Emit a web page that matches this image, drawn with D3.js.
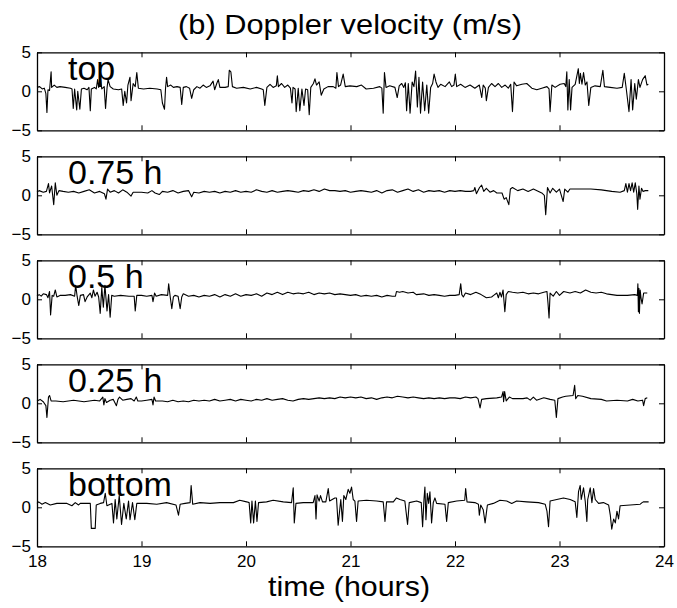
<!DOCTYPE html>
<html>
<head>
<meta charset="utf-8">
<script src="https://cdn.jsdelivr.net/npm/d3@7"></script>
<style>
  body { margin: 0; background: #fff; }
  text { font-family: "Liberation Sans", Arial, Helvetica, sans-serif; fill: #000; }
</style>
</head>
<body>
<div id="chart"></div>
<script>
// Doppler velocity (m/s) at five heights, [time in hours, velocity]
const topSeries = [
  [18.00,0.5],[18.025,0.6],[18.05,0.3],[18.07,0.4],[18.085,-0.3],[18.095,-2.7],[18.105,0.2],[18.12,0.1],
  [18.135,2.5],[18.14,0.5],[18.165,0.8],[18.19,0.5],[18.22,0.6],[18.27,0.5],[18.32,0.4],[18.335,0.3],
  [18.347,-2.2],[18.36,0.3],[18.38,-2.4],[18.39,0.0],[18.41,-2.3],[18.425,0.3],[18.45,0.4],[18.48,0.2],
  [18.497,0.5],[18.51,-2.5],[18.52,0.3],[18.55,0.5],[18.567,0.3],[18.58,1.5],[18.59,0.5],[18.605,1.8],
  [18.62,0.3],[18.643,0.6],[18.656,-2.2],[18.67,0.4],[18.68,1.5],[18.70,0.6],[18.73,0.3],[18.78,0.2],
  [18.81,0.3],[18.825,-1.8],[18.84,0.0],[18.857,-1.5],[18.87,0.8],[18.89,1.8],[18.90,-1.2],[18.92,1.0],
  [18.94,0.6],[18.955,2.4],[18.97,0.4],[19.02,0.3],[19.08,0.4],[19.15,0.3],[19.185,0.2],[19.20,-1.5],
  [19.22,-2.3],[19.23,0.4],[19.24,1.8],[19.25,0.6],[19.28,0.8],[19.305,0.5],[19.34,0.6],[19.37,0.5],
  [19.385,-1.7],[19.40,0.5],[19.43,0.6],[19.46,0.4],[19.48,-0.9],[19.50,0.2],[19.53,0.6],[19.56,0.4],
  [19.59,0.8],[19.62,0.5],[19.655,0.7],[19.685,1.3],[19.70,0.2],[19.72,1.0],[19.735,1.5],[19.75,0.5],
  [19.80,0.5],[19.83,0.6],[19.84,2.7],[19.855,2.5],[19.87,0.6],[19.91,0.4],[19.975,0.5],[20.04,0.3],
  [20.10,0.5],[20.15,0.3],[20.165,0.2],[20.18,-1.8],[20.20,0.5],[20.23,0.9],[20.26,0.5],[20.29,0.7],
  [20.30,2.0],[20.31,0.6],[20.34,1.0],[20.37,0.5],[20.40,0.8],[20.425,0.4],[20.44,-1.5],[20.45,0.5],
  [20.47,0.3],[20.48,-2.6],[20.50,0.4],[20.515,-2.5],[20.535,0.3],[20.555,-1.8],[20.57,0.3],[20.59,0.2],
  [20.605,-3.0],[20.62,0.5],[20.645,1.0],[20.66,1.6],[20.675,0.8],[20.70,1.2],[20.72,-0.5],[20.745,0.3],
  [20.785,0.6],[20.835,0.6],[20.86,0.4],[20.87,2.4],[20.885,0.6],[20.905,0.8],[20.93,2.2],[20.95,0.6],
  [20.995,0.7],[21.06,0.6],[21.105,0.8],[21.15,0.3],[21.22,0.4],[21.28,0.6],[21.30,0.4],[21.313,-2.8],
  [21.325,2.4],[21.34,0.5],[21.375,0.7],[21.425,0.5],[21.447,-0.8],[21.466,0.7],[21.49,1.0],[21.51,0.5],
  [21.525,1.1],[21.537,-2.5],[21.553,1.0],[21.57,-2.8],[21.59,1.2],[21.607,0.6],[21.623,2.6],[21.64,-2.0],
  [21.655,1.8],[21.67,-2.8],[21.69,1.2],[21.71,-2.5],[21.73,0.8],[21.748,-2.8],[21.767,0.5],[21.786,1.0],
  [21.80,2.2],[21.818,1.2],[21.837,0.5],[21.863,0.9],[21.905,0.6],[21.946,1.2],[21.968,0.6],[21.99,0.8],
  [22.003,2.2],[22.016,0.6],[22.054,0.9],[22.096,0.5],[22.144,0.8],[22.19,0.4],[22.233,0.8],[22.256,-0.8],
  [22.27,0.8],[22.29,0.4],[22.30,-1.2],[22.32,0.5],[22.35,1.0],[22.383,0.6],[22.415,1.0],[22.447,0.5],
  [22.48,0.8],[22.51,0.4],[22.533,0.9],[22.55,-2.6],[22.565,1.2],[22.59,0.7],[22.64,0.9],[22.687,1.0],
  [22.735,0.4],[22.783,0.2],[22.83,0.4],[22.88,0.6],[22.90,0.3],[22.91,-2.6],[22.927,0.8],[22.958,0.5],
  [23.006,0.9],[23.045,1.0],[23.06,0.6],[23.07,2.5],[23.08,-2.4],[23.093,1.5],[23.106,-2.4],[23.12,0.5],
  [23.15,0.9],[23.18,2.9],[23.19,1.0],[23.20,2.3],[23.215,0.9],[23.23,2.4],[23.247,0.8],[23.263,1.2],
  [23.28,-1.8],[23.30,0.5],[23.34,0.7],[23.39,0.6],[23.415,2.7],[23.43,0.6],[23.485,0.5],[23.55,0.4],
  [23.60,0.5],[23.62,2.3],[23.64,0.2],[23.665,-2.6],[23.685,1.5],[23.70,-2.4],[23.72,1.0],[23.735,-1.0],
  [23.755,1.5],[23.77,0.5],[23.795,1.5],[23.82,2.0],[23.837,0.8],[23.85,0.9]
];

const h075Series = [
  [18.00,0.4],[18.02,0.6],[18.06,0.4],[18.09,0.5],[18.11,1.5],[18.12,0.3],[18.14,1.2],[18.16,-1.2],
  [18.175,1.6],[18.19,0.0],[18.21,0.6],[18.25,0.5],[18.30,0.4],[18.35,0.5],[18.40,0.3],[18.45,0.5],
  [18.50,0.7],[18.55,0.3],[18.60,0.5],[18.645,0.2],[18.66,-0.5],[18.675,0.8],[18.70,0.4],[18.74,0.6],
  [18.78,0.3],[18.82,0.7],[18.86,0.4],[18.90,-0.1],[18.92,0.4],[19.00,0.4],[19.06,0.3],[19.10,0.6],
  [19.13,0.3],[19.17,0.1],[19.20,0.5],[19.25,0.4],[19.30,0.6],[19.35,0.3],[19.40,0.5],[19.45,0.6],
  [19.48,-0.2],[19.50,0.4],[19.55,0.3],[19.60,0.5],[19.65,0.4],[19.70,0.5],[19.75,0.3],[19.80,0.5],
  [19.85,0.4],[19.90,0.6],[19.95,0.4],[20.00,0.5],[20.05,0.4],[20.10,0.7],[20.15,0.5],[20.20,0.4],
  [20.25,0.6],[20.30,0.4],[20.35,0.5],[20.40,0.6],[20.45,0.5],[20.50,0.4],[20.55,0.6],[20.60,0.5],
  [20.65,0.7],[20.70,0.5],[20.75,0.8],[20.80,0.6],[20.85,0.6],[20.90,0.5],[20.95,0.6],[21.00,0.4],
  [21.05,0.5],[21.10,0.6],[21.15,0.5],[21.20,0.4],[21.25,0.6],[21.30,0.3],[21.35,0.6],[21.40,0.7],
  [21.45,0.4],[21.50,0.6],[21.55,0.8],[21.60,0.5],[21.65,0.7],[21.70,0.4],[21.75,0.6],[21.80,0.5],
  [21.85,0.6],[21.90,0.4],[21.95,0.6],[22.00,0.5],[22.05,0.6],[22.10,0.5],[22.15,0.5],[22.18,0.6],
  [22.19,1.0],[22.205,0.2],[22.235,1.0],[22.255,1.3],[22.275,0.5],[22.30,0.9],[22.335,0.4],[22.37,0.6],
  [22.40,0.3],[22.45,0.3],[22.47,-0.5],[22.49,-0.3],[22.515,-1.2],[22.53,0.8],[22.55,1.0],[22.60,0.6],
  [22.65,0.8],[22.70,0.5],[22.75,0.8],[22.80,0.5],[22.83,0.3],[22.855,0.0],[22.868,-2.5],[22.885,1.0],
  [22.91,0.3],[22.935,0.9],[22.97,0.4],[23.00,0.8],[23.035,-0.8],[23.05,0.8],[23.08,0.4],[23.10,0.8],
  [23.20,0.8],[23.30,0.8],[23.40,0.7],[23.50,0.5],[23.58,0.4],[23.62,0.6],[23.635,1.5],[23.65,0.4],
  [23.665,1.5],[23.68,0.6],[23.695,1.6],[23.71,0.4],[23.725,1.6],[23.74,0.2],[23.748,-1.8],[23.76,1.2],
  [23.77,-0.5],[23.785,0.9],[23.80,0.5],[23.82,0.6],[23.85,0.6]
];

const h05Series = [
  [18.00,0.4],[18.02,0.6],[18.04,0.4],[18.06,0.7],[18.09,0.6],[18.105,0.2],[18.12,1.0],[18.13,-2.0],
  [18.145,0.5],[18.16,0.4],[18.175,1.2],[18.19,0.3],[18.22,0.5],[18.27,0.5],[18.32,0.6],[18.36,0.4],
  [18.37,1.8],[18.385,0.3],[18.40,-0.8],[18.415,0.5],[18.445,0.6],[18.46,-0.3],[18.48,0.3],[18.51,0.8],
  [18.525,0.2],[18.54,1.2],[18.555,0.4],[18.575,0.9],[18.59,0.3],[18.605,-1.8],[18.62,1.5],[18.635,-1.0],
  [18.65,1.8],[18.67,-1.5],[18.685,0.6],[18.70,-2.3],[18.715,0.5],[18.74,0.4],[18.80,0.5],[18.88,0.4],
  [18.93,0.4],[18.94,-1.5],[18.955,0.5],[19.00,0.5],[19.05,0.4],[19.10,0.5],[19.11,-0.3],[19.125,0.8],
  [19.14,0.4],[19.19,0.6],[19.25,0.5],[19.26,2.0],[19.275,0.3],[19.29,-1.2],[19.305,0.3],[19.32,0.5],
  [19.35,0.4],[19.37,-1.2],[19.385,0.3],[19.40,0.7],[19.45,0.4],[19.50,0.5],[19.55,0.3],[19.60,0.5],
  [19.65,0.4],[19.70,0.6],[19.75,0.3],[19.80,0.6],[19.85,0.4],[19.90,0.7],[19.95,0.4],[20.00,0.6],
  [20.05,0.5],[20.10,0.7],[20.15,0.4],[20.20,0.8],[20.25,0.6],[20.30,0.9],[20.35,0.6],[20.40,0.9],
  [20.45,0.7],[20.50,0.8],[20.55,0.7],[20.60,0.9],[20.65,0.6],[20.70,0.8],[20.75,0.7],[20.80,0.8],
  [20.85,0.6],[20.90,0.7],[20.95,0.6],[21.00,0.5],[21.05,0.6],[21.10,0.4],[21.15,0.5],[21.20,0.4],
  [21.25,0.5],[21.30,0.3],[21.35,0.5],[21.40,0.4],[21.43,0.4],[21.44,1.0],[21.47,0.9],[21.50,1.0],
  [21.55,0.8],[21.60,0.9],[21.63,0.6],[21.70,0.7],[21.75,0.5],[21.80,0.6],[21.85,0.5],[21.90,0.4],
  [21.95,0.5],[22.00,0.5],[22.04,0.6],[22.055,2.0],[22.065,0.6],[22.08,0.3],[22.10,0.8],[22.15,0.6],
  [22.20,0.9],[22.25,0.6],[22.30,0.2],[22.35,0.3],[22.37,0.5],[22.40,0.8],[22.415,0.2],[22.43,0.9],
  [22.445,0.3],[22.46,1.2],[22.477,-1.6],[22.49,0.6],[22.51,1.0],[22.55,0.9],[22.60,0.8],[22.65,0.9],
  [22.70,0.7],[22.75,0.8],[22.80,0.7],[22.85,0.9],[22.88,1.0],[22.89,-0.5],[22.90,-2.4],[22.91,0.8],
  [22.94,0.4],[22.97,1.0],[23.00,0.5],[23.04,1.0],[23.10,0.8],[23.15,1.0],[23.20,0.8],[23.25,1.2],
  [23.30,0.9],[23.35,0.8],[23.40,0.9],[23.45,0.7],[23.50,0.6],[23.55,0.5],[23.65,0.5],[23.72,0.6],
  [23.745,0.5],[23.75,2.0],[23.755,-1.6],[23.76,1.4],[23.765,-1.8],[23.772,1.2],[23.78,0.2],[23.79,-0.6],
  [23.805,0.8],[23.83,0.8],[23.84,0.8]
];

const h025Series = [
  [18.00,0.3],[18.03,0.5],[18.06,0.2],[18.085,-0.3],[18.095,-1.8],[18.11,0.8],[18.12,1.0],[18.135,0.3],
  [18.18,0.3],[18.25,0.2],[18.30,0.3],[18.35,0.4],[18.40,0.3],[18.45,0.2],[18.50,0.3],[18.55,0.4],
  [18.60,0.3],[18.63,0.8],[18.64,-0.2],[18.65,0.6],[18.665,0.1],[18.70,0.4],[18.73,0.5],[18.76,-0.3],
  [18.775,0.5],[18.79,0.8],[18.82,0.4],[18.86,0.5],[18.90,0.6],[18.93,0.3],[18.95,0.8],[18.965,0.3],
  [19.00,0.3],[19.05,0.4],[19.10,0.5],[19.11,-0.2],[19.12,0.8],[19.135,0.3],[19.20,0.3],[19.25,0.2],
  [19.30,0.4],[19.35,0.2],[19.40,0.3],[19.45,0.2],[19.50,0.4],[19.55,0.3],[19.60,0.4],[19.65,0.3],
  [19.70,0.5],[19.75,0.3],[19.80,0.4],[19.85,0.5],[19.90,0.3],[19.95,0.5],[20.00,0.4],[20.05,0.3],
  [20.10,0.5],[20.15,0.4],[20.20,0.6],[20.25,0.4],[20.30,0.5],[20.35,0.6],[20.40,0.4],[20.45,0.3],
  [20.50,0.5],[20.55,0.6],[20.60,0.5],[20.65,0.6],[20.70,0.7],[20.75,0.6],[20.80,0.7],[20.85,0.6],
  [20.90,0.8],[20.95,0.7],[21.00,0.8],[21.05,0.7],[21.10,0.8],[21.15,0.6],[21.20,0.7],[21.25,0.5],
  [21.30,0.7],[21.35,0.8],[21.40,0.7],[21.45,0.9],[21.50,0.8],[21.55,0.7],[21.60,0.8],[21.65,0.7],
  [21.70,0.6],[21.75,0.7],[21.80,0.6],[21.85,0.7],[21.90,0.6],[21.95,0.7],[22.00,0.7],[22.05,0.6],
  [22.10,0.8],[22.15,0.7],[22.20,0.8],[22.22,0.6],[22.24,-0.6],[22.255,0.5],[22.30,0.6],[22.40,0.7],
  [22.445,0.8],[22.46,1.5],[22.465,0.2],[22.475,1.5],[22.49,0.3],[22.52,0.8],[22.55,0.6],[22.60,0.6],
  [22.65,0.6],[22.69,0.7],[22.72,0.4],[22.75,0.8],[22.78,0.4],[22.85,0.7],[22.91,0.5],[22.955,0.4],
  [22.97,-1.8],[22.985,0.6],[23.03,0.8],[23.06,0.9],[23.13,1.0],[23.145,2.3],[23.155,0.6],[23.175,1.0],
  [23.22,0.9],[23.30,0.6],[23.40,0.5],[23.45,0.3],[23.55,0.4],[23.65,0.3],[23.70,0.5],[23.75,0.3],
  [23.795,0.4],[23.805,-0.3],[23.82,0.6],[23.84,0.7]
];

const bottomSeries = [
  [18.00,0.5],[18.016,0.7],[18.048,0.4],[18.08,0.6],[18.127,0.3],[18.19,0.5],[18.287,0.5],[18.334,0.2],
  [18.366,0.6],[18.398,0.3],[18.414,0.5],[18.51,0.5],[18.52,-2.7],[18.557,-2.7],[18.567,0.3],[18.605,0.5],
  [18.637,0.6],[18.653,1.8],[18.669,0.2],[18.717,0.5],[18.732,-2.0],[18.748,1.0],[18.764,-1.5],[18.787,1.5],
  [18.809,-2.2],[18.831,0.5],[18.854,-1.5],[18.876,0.8],[18.89,-1.6],[18.914,0.6],[18.936,-1.6],[18.955,0.5],
  [19.05,0.5],[19.146,0.4],[19.24,0.6],[19.33,0.3],[19.354,-1.0],[19.37,0.4],[19.417,0.5],[19.465,0.6],
  [19.475,2.8],[19.49,0.4],[19.56,0.6],[19.656,0.5],[19.75,0.6],[19.88,0.6],[19.94,0.9],[20.006,0.7],
  [20.03,0.6],[20.045,-2.0],[20.057,0.8],[20.073,-2.0],[20.09,0.8],[20.105,-1.8],[20.12,0.6],[20.197,0.7],
  [20.26,0.9],[20.357,0.7],[20.436,0.6],[20.452,2.5],[20.462,-2.0],[20.478,0.5],[20.548,0.6],[20.643,0.6],
  [20.66,1.5],[20.67,-1.5],[20.68,1.6],[20.70,0.8],[20.713,1.5],[20.732,0.7],[20.764,0.7],[20.787,2.4],
  [20.80,0.8],[20.85,1.2],[20.866,1.2],[20.882,-2.3],[20.907,1.0],[20.923,-1.8],[20.936,1.5],[20.955,1.0],
  [20.978,2.3],[20.994,1.8],[21.01,2.6],[21.026,1.0],[21.042,0.8],[21.058,-1.8],[21.073,0.8],[21.153,0.9],
  [21.25,0.8],[21.313,0.7],[21.33,-1.8],[21.345,0.7],[21.41,0.7],[21.44,1.2],[21.473,1.0],[21.52,0.8],
  [21.546,-2.2],[21.562,0.6],[21.633,0.8],[21.677,0.6],[21.69,-2.5],[21.703,1.0],[21.712,2.6],[21.722,-1.6],
  [21.735,1.8],[21.748,0.5],[21.76,2.0],[21.776,-2.0],[21.792,0.6],[21.808,1.2],[21.824,0.5],[21.904,0.4],
  [21.92,-1.8],[21.936,0.6],[22.016,0.8],[22.093,0.9],[22.102,2.4],[22.115,0.7],[22.19,0.6],[22.224,0.4],
  [22.233,-1.0],[22.246,0.3],[22.27,-0.3],[22.288,-2.0],[22.31,0.3],[22.367,0.5],[22.43,0.9],[22.495,0.8],
  [22.543,0.5],[22.59,0.8],[22.687,0.7],[22.80,0.6],[22.863,0.4],[22.88,-0.5],[22.895,-2.5],[22.91,0.8],
  [22.974,1.0],[23.038,1.2],[23.102,1.0],[23.15,0.7],[23.166,-1.3],[23.182,2.0],[23.198,2.8],[23.208,1.0],
  [23.23,2.5],[23.246,0.8],[23.262,-1.8],[23.27,1.0],[23.294,2.5],[23.31,0.6],[23.326,2.4],[23.342,1.0],
  [23.374,0.5],[23.42,0.6],[23.47,0.3],[23.486,-1.0],[23.50,-2.8],[23.518,-1.5],[23.534,-2.0],[23.55,-0.5],
  [23.565,-1.5],[23.58,0.2],[23.677,0.3],[23.773,0.4],[23.79,0.6],[23.805,0.7],[23.853,0.7]
];

const panelSeries = [topSeries, h075Series, h05Series, h025Series, bottomSeries];
const panelNames = ["top", "0.75 h", "0.5 h", "0.25 h", "bottom"];
const xTicks = [18, 19, 20, 21, 22, 23, 24];
const yTicks = [-5, 0, 5];

const W = 677, H = 608;
const left = 37, right = 664;
const firstTop = 52.3, panelH = 78, panelStep = 104;

const svg = d3.select("#chart").append("svg")
    .attr("width", W)
    .attr("height", H);

const x = d3.scaleLinear().domain([18, 24]).range([left, right]);

panelSeries.forEach((series, i) => {
    const top = firstTop + i * panelStep;
    const y = d3.scaleLinear().domain([-5, 5]).range([top + panelH, top]);
    const g = svg.append("g");
    const last = i === panelSeries.length - 1;

    // bottom axis, ticks pointing inward
    g.append("g")
        .attr("transform", `translate(0,${top + panelH})`)
        .call(d3.axisBottom(x).tickValues(xTicks).tickSizeInner(-5).tickSizeOuter(0)
            .tickPadding(9).tickFormat(last ? d3.format("d") : ""))
        .attr("class", "axis");

    // top axis
    g.append("g")
        .attr("transform", `translate(0,${top})`)
        .call(d3.axisTop(x).tickValues(xTicks).tickSizeInner(-5).tickSizeOuter(0).tickFormat(""))
        .attr("class", "axis");

    // left axis with labels
    g.append("g")
        .attr("transform", `translate(${left},0)`)
        .call(d3.axisLeft(y).tickValues(yTicks).tickSizeInner(-5).tickSizeOuter(0).tickPadding(6))
        .attr("class", "axis");

    // right axis
    g.append("g")
        .attr("transform", `translate(${right},0)`)
        .call(d3.axisRight(y).tickValues(yTicks).tickSizeInner(-5).tickSizeOuter(0).tickFormat(""))
        .attr("class", "axis");

    g.append("text")
        .attr("x", 68)
        .attr("y", top + 28)
        .attr("font-size", 34)
        .text(panelNames[i]);

    const line = d3.line()
        .x(d => x(d[0]))
        .y(d => y(d[1]));

    g.append("path")
        .datum(series)
        .attr("fill", "none")
        .attr("stroke", "#000")
        .attr("stroke-width", 1.1)
        .attr("stroke-linejoin", "round")
        .attr("d", line);
});

svg.selectAll(".axis path.domain").attr("stroke", "#000").attr("stroke-width", 1.3);
svg.selectAll(".axis line").attr("stroke", "#000").attr("stroke-width", 1);
svg.selectAll(".axis text")
    .attr("font-size", 17)
    .attr("font-family", '"Liberation Sans", Arial, sans-serif')
    .attr("fill", "#000");

svg.append("text")
    .attr("x", 350)
    .attr("y", 33.5)
    .attr("text-anchor", "middle")
    .attr("font-size", 28)
    .attr("textLength", 344)
    .attr("lengthAdjust", "spacingAndGlyphs")
    .text("(b) Doppler velocity (m/s)");

svg.append("text")
    .attr("x", 349)
    .attr("y", 596)
    .attr("text-anchor", "middle")
    .attr("font-size", 28)
    .attr("textLength", 162)
    .attr("lengthAdjust", "spacingAndGlyphs")
    .text("time (hours)");
</script>
</body>
</html>
